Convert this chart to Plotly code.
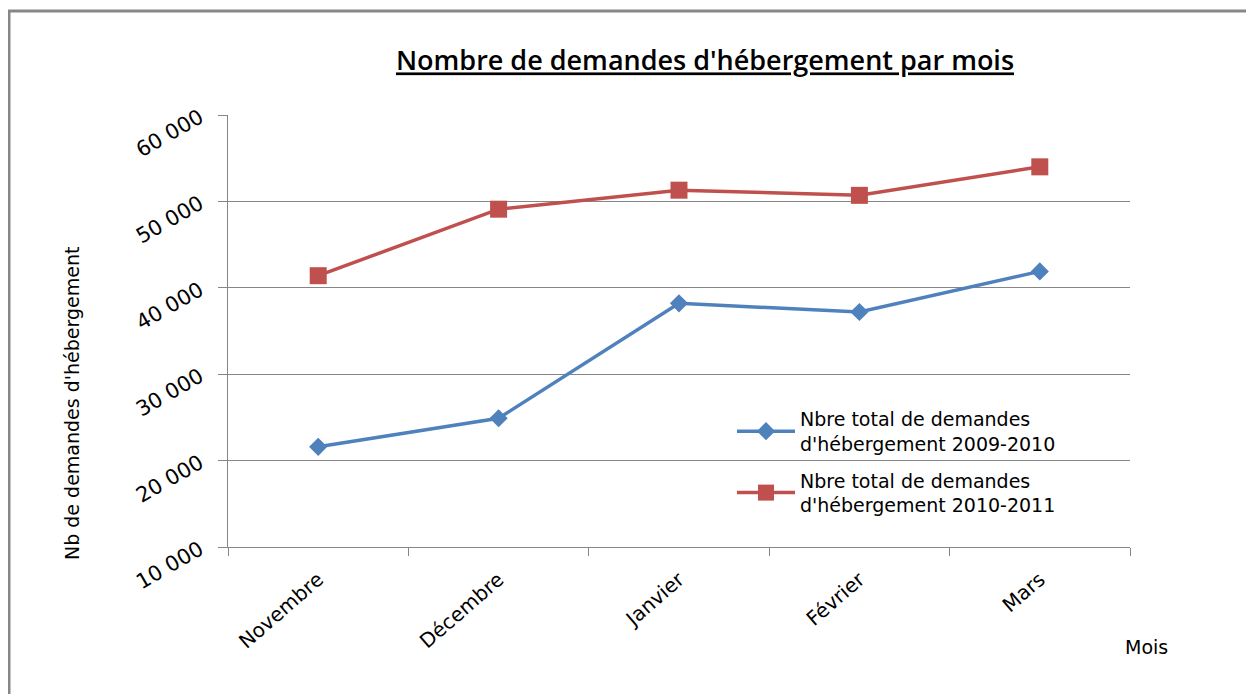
import plotly.graph_objects as go

months = ["Novembre", "Décembre", "Janvier", "Février", "Mars"]
demandes_2009_2010 = [21600, 24900, 38200, 37200, 41900]
demandes_2010_2011 = [41400, 49100, 51300, 50700, 54000]
y_ticks = [10000, 20000, 30000, 40000, 50000, 60000]
y_tick_labels = ["10 000", "20 000", "30 000", "40 000", "50 000", "60 000"]

BLUE = "#4F81BD"
RED = "#C0504D"
GRID = "#868686"
FONT = "DejaVu Sans, Liberation Sans, Arial, sans-serif"

L, T, W, H = 220, 107, 902, 432
B = T + H

fig = go.Figure()
fig.add_trace(go.Scatter(
    x=months, y=demandes_2009_2010, mode="lines+markers",
    name="Nbre total de demandes<br>d'hébergement 2009-2010",
    legendgroup="a",
    line=dict(color=BLUE, width=3.5),
    marker=dict(symbol="diamond", size=14, color=BLUE),
))
fig.add_trace(go.Scatter(
    x=months, y=demandes_2010_2011, mode="lines+markers",
    name="Nbre total de demandes<br>d'hébergement 2010-2011",
    legendgroup="b",
    line=dict(color=RED, width=3.5),
    marker=dict(symbol="square", size=17, color=RED),
))

fig.update_layout(
    width=1254, height=694,
    margin=dict(l=L, r=1254 - L - W, t=T, b=694 - B),
    paper_bgcolor="white", plot_bgcolor="white",
    font=dict(family=FONT, size=18, color="black"),
    title=dict(
        text="<span style='text-decoration:underline'>Nombre de demandes d'hébergement par mois</span>",
        x=697 / 1254, xanchor="center", y=1 - 53 / 694, yanchor="middle",
        font=dict(family="Open Sans, Liberation Sans, sans-serif", size=27, color="black", weight=600),
    ),
    showlegend=True,
    legend=dict(
        x=(724 - L) / W, y=(B - 392) / H, xanchor="left", yanchor="top",
        bgcolor="rgba(0,0,0,0)", font=dict(family=FONT, size=19),
        traceorder="grouped", tracegroupgap=9, itemwidth=58,
    ),
    xaxis=dict(
        type="category", tickangle=-41, tickson="boundaries",
        ticks="outside", ticklen=8, tickcolor=GRID,
        showline=True, linecolor=GRID, linewidth=1,
        showgrid=False, zeroline=False,
        tickfont=dict(family=FONT, size=20),
        ticklabelstandoff=12,
        range=[-0.5, 4.5],
    ),
    yaxis=dict(
        range=[10000, 60000], tickvals=y_ticks, ticktext=y_tick_labels,
        tickangle=-30, ticks="outside", ticklen=9, tickcolor=GRID,
        showline=True, linecolor=GRID, linewidth=1,
        showgrid=True, gridcolor=GRID, gridwidth=1, zeroline=False,
        tickfont=dict(family=FONT, size=21),
        ticklabelstandoff=14,
    ),
)

fig.add_annotation(
    text="Nb de demandes d'hébergement", xref="paper", yref="paper",
    x=(64 - L) / W, y=(B - 396) / H, textangle=-90,
    showarrow=False, font=dict(family=FONT, size=19),
    xanchor="center", yanchor="middle",
)
fig.add_annotation(
    text="Mois", xref="paper", yref="paper",
    x=(1138 - L) / W, y=(B - 639) / H,
    showarrow=False, font=dict(family=FONT, size=19),
    xanchor="center", yanchor="middle",
)
fig.add_shape(
    type="rect", xref="paper", yref="paper",
    x0=(1 - L) / W, x1=(1260 - L) / W,
    y0=(B - 700) / H, y1=(B - 3) / H,
    line=dict(color="#878787", width=3), layer="below",
)

fig.write_html("out.html")
